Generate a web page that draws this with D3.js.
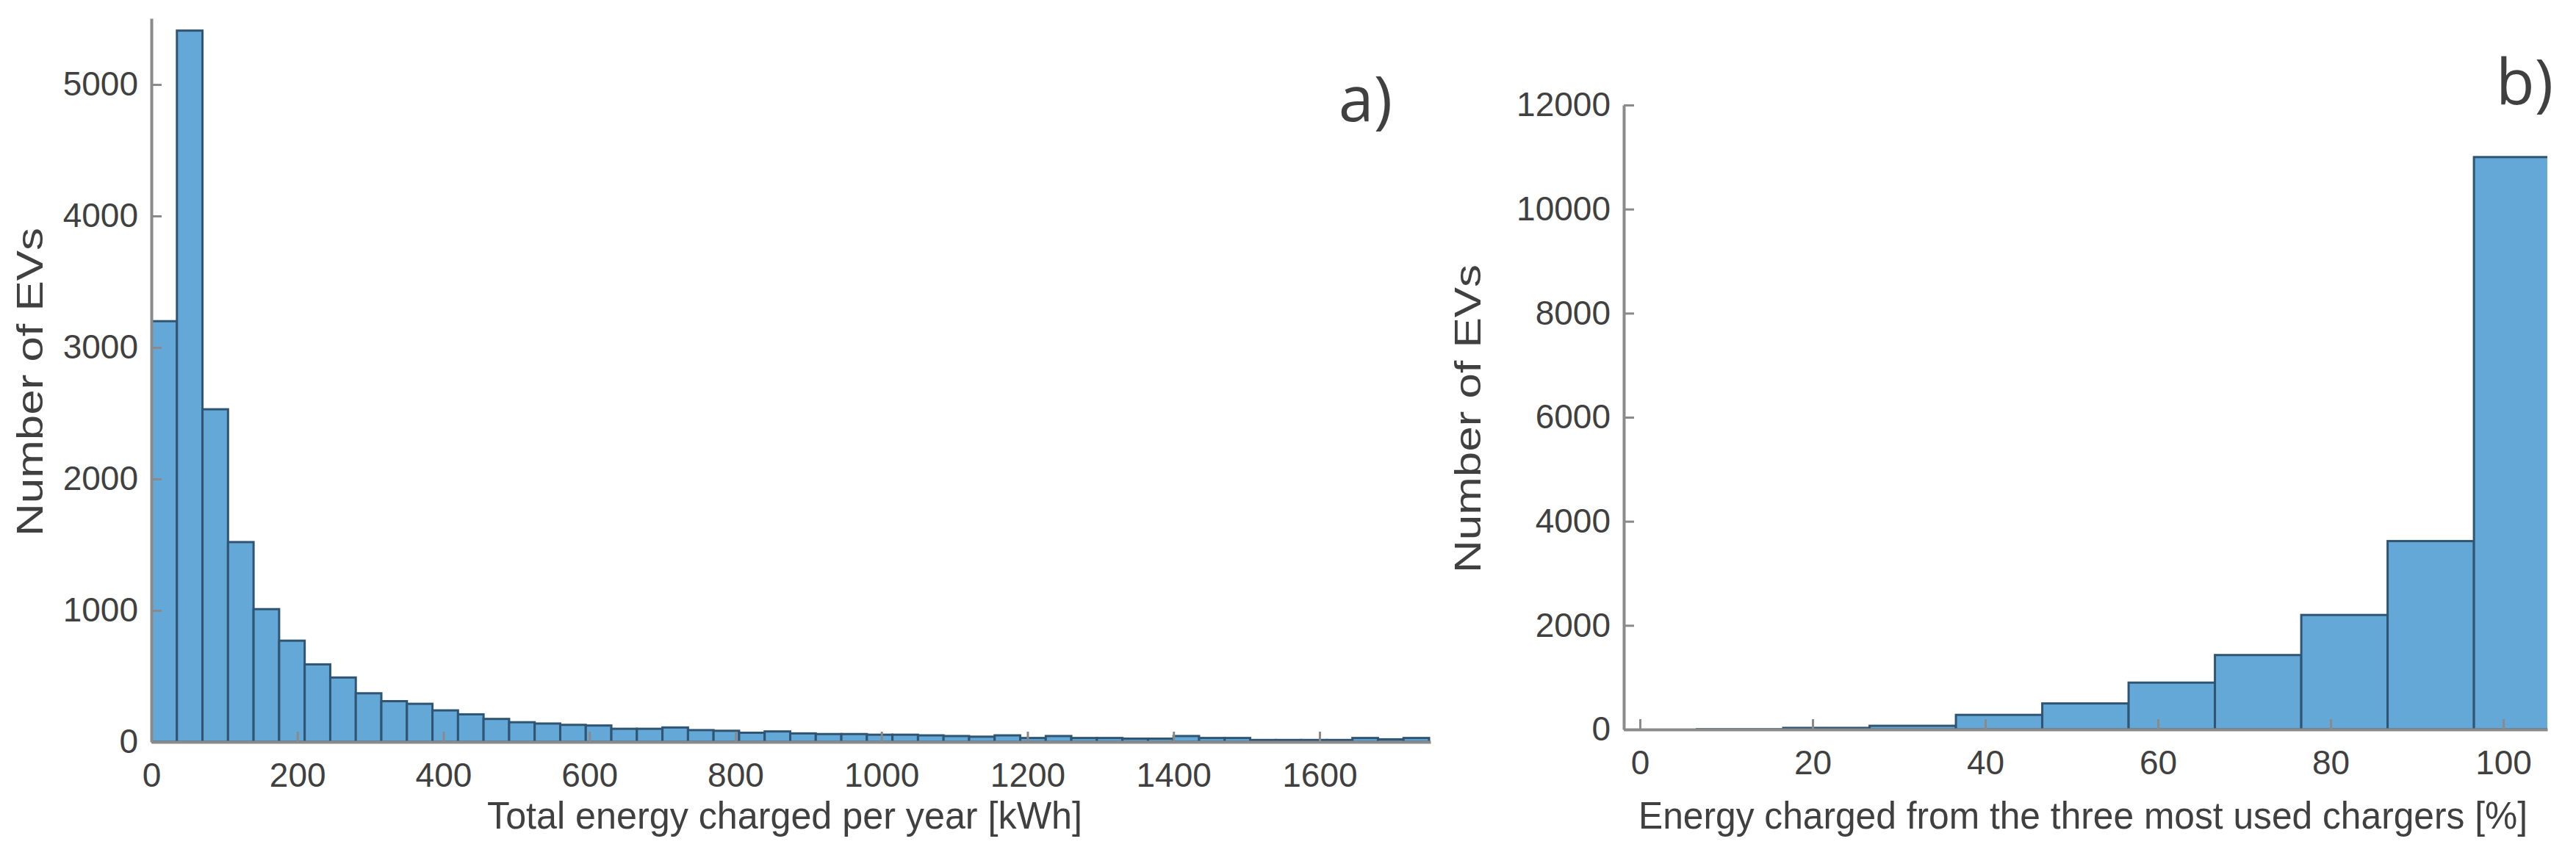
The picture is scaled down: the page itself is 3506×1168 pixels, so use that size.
<!DOCTYPE html>
<html>
<head>
<meta charset="utf-8">
<script src="https://cdn.jsdelivr.net/npm/d3@7"></script>
<style>
  body { margin: 0; background: #fff; }
  text { font-family: "Liberation Sans", Arial, sans-serif; fill: #404040; }
</style>
</head>
<body>
<svg id="chart" width="3506" height="1168"></svg>
<script>
// panel a: total energy per year, bins of 35 kWh starting at 0
const binWidthA = 35;
const countsA = [3200, 5410, 2530, 1520, 1010, 770, 590, 490, 370, 310,
                 290, 240, 210, 175, 150, 140, 130, 125, 100, 100,
                 110, 90, 85, 70, 80, 65, 60, 60, 55, 55,
                 50, 45, 40, 50, 30, 45, 30, 30, 25, 25,
                 45, 30, 30, 15, 15, 15, 15, 30, 20, 30];
const ticksAx = [0, 200, 400, 600, 800, 1000, 1200, 1400, 1600];
const ticksAy = [0, 1000, 2000, 3000, 4000, 5000];

// panel b: share from three most used chargers, bin edges in %
const edgesB = [6.6, 16.6, 26.6, 36.6, 46.6, 56.6, 66.6, 76.6, 86.6, 96.6, 106.6];
const countsB = [5, 30, 70, 280, 500, 900, 1430, 2200, 3620, 11000];
const ticksBx = [0, 20, 40, 60, 80, 100];
const ticksBy = [0, 2000, 4000, 6000, 8000, 10000, 12000];

const fill = "#64a8d8", edge = "#2f5573", axisCol = "#8a8a8a";
const svg = d3.select("#chart");

function panel(o) {
    const x = d3.scaleLinear().domain(o.xDomain).range([o.left, o.right]);
    const y = d3.scaleLinear().domain(o.yDomain).range([o.bottom, o.top]);
    const g = svg.append("g");

    g.append("clipPath").attr("id", o.id + "clip")
        .append("rect").attr("x", o.left).attr("y", 0)
        .attr("width", o.right - o.left).attr("height", o.bottom);

    g.append("g").attr("clip-path", `url(#${o.id}clip)`)
        .selectAll("rect").data(o.bins).enter().append("rect")
        .attr("x", d => x(d.x0))
        .attr("y", d => y(d.v))
        .attr("width", d => x(d.x1) - x(d.x0))
        .attr("height", d => y(0) - y(d.v))
        .attr("fill", fill)
        .attr("stroke", edge)
        .attr("stroke-width", 3);

    const xAxis = g.append("g").attr("transform", `translate(0,${o.bottom})`)
        .call(d3.axisBottom(x).tickValues(o.xTicks).tickFormat(d3.format("d"))
            .tickSizeInner(-14).tickSizeOuter(0).tickPadding(28));
    const yAxis = g.append("g").attr("transform", `translate(${o.left},0)`)
        .call(d3.axisLeft(y).tickValues(o.yTicks).tickFormat(d3.format("d"))
            .tickSizeInner(-14).tickSizeOuter(0).tickPadding(18));
    [xAxis, yAxis].forEach(a => {
        a.select(".domain").attr("stroke", axisCol).attr("stroke-width", 4);
        a.selectAll(".tick line").attr("stroke", axisCol).attr("stroke-width", 3);
        a.selectAll("text").style("font-size", "46px").attr("fill", "#404040")
            .style("font-family", "'Liberation Sans',Arial,sans-serif");
    });

    g.append("text").attr("x", o.xlabX).attr("y", 1128)
        .attr("text-anchor", "middle").style("font-size", "52px")
        .attr("textLength", o.xlabLen).attr("lengthAdjust", "spacingAndGlyphs")
        .text(o.xlabel);
    g.append("text").attr("transform", `translate(${o.ylabX},${o.ylabY}) rotate(-90)`)
        .attr("text-anchor", "middle").style("font-size", "50px")
        .attr("textLength", 420).attr("lengthAdjust", "spacingAndGlyphs")
        .text("Number of EVs");
    g.append("text").attr("x", o.tagX).attr("y", o.tagY).attr("text-anchor", "end")
        .style("font-size", "86px").style("font-family", "'Open Sans',sans-serif").attr("fill", "#505050")
        .text(o.tag);
}

panel({
    id: "a", left: 206, right: 1947, top: 25, bottom: 1010,
    xDomain: [0, 1752], yDomain: [0, 5503],
    bins: countsA.map((v, i) => ({ x0: i * binWidthA, x1: (i + 1) * binWidthA, v })),
    xTicks: ticksAx, yTicks: ticksAy,
    xlabel: "Total energy charged per year [kWh]", xlabX: 1068, xlabLen: 810,
    ylabX: 58, ylabY: 520,
    tag: "a)", tagX: 1895, tagY: 165
});

panel({
    id: "b", left: 2210, right: 3467, top: 143, bottom: 993,
    xDomain: [-1.87, 105.1], yDomain: [0, 12000],
    bins: countsB.map((v, i) => ({ x0: edgesB[i], x1: edgesB[i + 1], v })),
    xTicks: ticksBx, yTicks: ticksBy,
    xlabel: "Energy charged from the three most used chargers [%]", xlabX: 2835, xlabLen: 1210,
    ylabX: 2015, ylabY: 570,
    tag: "b)", tagX: 3475, tagY: 142
});
</script>
</body>
</html>
